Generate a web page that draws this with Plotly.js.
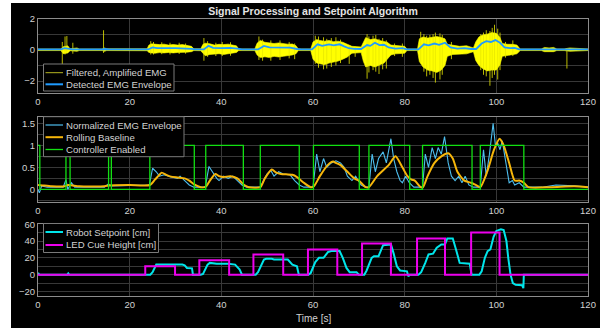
<!DOCTYPE html>
<html><head><meta charset="utf-8">
<script src="https://cdn.plot.ly/plotly-3.0.1.min.js"></script>
<style>
html,body{margin:0;padding:0;background:#fff;width:605px;height:328px;overflow:hidden}
#chart{position:absolute;left:11px;top:3px;width:589px;height:325px}
</style>
</head><body><div id="chart"></div>
<script>
// ---------- Panel 1: filtered EMG (band read as upper/lower extent) ----------
const emgT  = [0,5,5.5,6.5,7,8.5,9,14,14.5,15,23.8,
  24.2,24.8,25.5,26.5,27.5,28.5,29.5,30.5,31.5,32.5,33.5,34,
  35.5,36,36.5,37.5,38.5,39.5,40.5,41.5,42.5,43.3,43.8,
  47.3,47.8,48.5,49.5,50.5,51.5,52.5,53.5,54.5,55.5,56.3,56.8,
  59.5,60,60.8,61.5,62.5,63.5,64.5,65.5,66.5,67.5,68,68.5,70.5,
  71,71.5,72.5,73.5,74.5,75.5,76.2,77,78,79,80,80.5,
  82.8,83.2,84,85,86,87,88,88.8,89.3,90.5,92,93.5,95,
  95.5,96.2,97,98,99,100,100.8,101.3,102.5,103.5,104.5,105.2,
  109.8,110.5,111.5,112.5,113.2,114.8,116,117.5,119,120];
const emgHi = [0.05,0.05,0.2,0.25,0.06,0.12,0.05,0.05,0.12,0.06,0.06,
  0.3,0.38,0.35,0.33,0.36,0.3,0.34,0.3,0.33,0.27,0.22,0.06,
  0.06,0.35,0.42,0.38,0.3,0.35,0.33,0.36,0.3,0.25,0.05,
  0.05,0.42,0.6,0.48,0.45,0.4,0.44,0.4,0.36,0.37,0.26,0.05,
  0.05,0.5,0.65,0.6,0.55,0.6,0.52,0.55,0.48,0.35,0.26,0.22,0.18,
  0.5,0.78,0.65,0.7,0.6,0.52,0.48,0.3,0.26,0.26,0.22,0.05,
  0.05,0.7,0.82,0.75,0.78,0.85,0.78,0.7,0.35,0.3,0.22,0.26,0.12,
  0.5,0.82,0.95,1.0,1.1,1.05,0.78,0.4,0.35,0.35,0.3,0.05,
  0.05,0.15,0.12,0.15,0.05,0.05,0.12,0.1,0.1,0.05];
const emgLo = [-0.05,-0.05,-0.25,-0.2,-0.06,-0.1,-0.05,-0.05,-0.1,-0.05,-0.06,
  -0.17,-0.2,-0.22,-0.18,-0.2,-0.17,-0.2,-0.17,-0.18,-0.15,-0.12,-0.05,
  -0.06,-0.25,-0.38,-0.3,-0.27,-0.25,-0.3,-0.25,-0.23,-0.17,-0.05,
  -0.05,-0.33,-0.5,-0.45,-0.5,-0.42,-0.46,-0.42,-0.38,-0.33,-0.25,-0.05,
  -0.05,-0.6,-0.85,-0.9,-0.95,-0.85,-0.78,-0.72,-0.6,-0.46,-0.33,-0.22,-0.18,
  -0.75,-1.1,-1.0,-1.1,-1.0,-0.85,-0.6,-0.33,-0.26,-0.26,-0.22,-0.05,
  -0.05,-0.75,-1.1,-1.3,-1.35,-1.45,-1.3,-1.0,-0.42,-0.3,-0.26,-0.26,-0.12,
  -0.68,-1.0,-1.2,-1.35,-1.3,-1.3,-0.95,-0.42,-0.35,-0.3,-0.26,-0.05,
  -0.05,-0.12,-0.1,-0.12,-0.05,-0.05,-0.1,-0.08,-0.08,-0.05];
// individual spikes of the EMG trace
const spikeT  = [5.3,5.9,6.3,7.6,14.3,24.6,25.2,27,28.8,30.8,32.2,36.2,37,38.8,40.2,42,48.2,49,50.8,52.8,54.8,56,
  60.5,61.2,62.3,63,64,65,66,67.9,69.2,71.8,72.2,73.1,73.7,74.4,75.2,76,77.8,79.5,
  83.5,84.2,84.8,85.5,86.2,86.7,87.7,88.2,90.2,96.6,97.2,97.8,98.6,99.1,99.6,100.3,100.8,102,103.6,115.4];
const spikeHi = [0.5,0.85,0.88,0.45,1.25,0.55,0.5,0.48,0.45,0.45,0.4,0.75,0.55,0.45,0.5,0.48,0.85,0.65,0.6,0.6,0.5,0.4,
  0.9,0.85,0.8,0.7,0.75,0.8,0.65,0.3,0.2,1.0,0.85,0.9,0.95,0.7,0.75,0.6,0.4,0.4,
  1.15,1.0,0.9,0.95,1.0,1.1,1.05,0.95,0.5,1.0,1.1,1.25,1.2,1.4,1.6,1.35,1.1,0.5,0.6,0.1];
const spikeLo = [-0.95,-0.3,-0.2,-0.25,-0.2,-0.3,-0.3,-0.28,-0.3,-0.27,-0.25,-0.7,-0.45,-0.4,-0.4,-0.38,-0.65,-0.7,-0.7,-0.65,-0.55,-0.6,
  -0.9,-1.15,-1.25,-1.2,-1.1,-1.0,-0.85,-0.9,-0.45,-1.85,-1.45,-1.3,-1.4,-1.55,-1.25,-1.2,-0.4,-0.45,
  -0.8,-1.4,-1.7,-1.6,-1.8,-2.1,-1.9,-1.6,-0.6,-1.3,-1.6,-1.7,-2.3,-1.8,-1.6,-1.9,-1.3,-0.5,-0.4,-1.2];
// detected EMG envelope
const envT = [0,5,5.8,6.6,7.5,14,14.6,15.5,24,25,26,30,32,33.5,34.2,36.2,37.2,38.2,40,42,43.5,44.5,48,49.3,50.5,53,55,56.5,57.5,59.8,61,62,63.5,64.5,65.8,66.8,67.8,69,70.5,71.8,72.5,73.5,74.5,75.5,76.5,78,79.5,80.5,83,84.2,85.2,86.5,87.5,88.8,90,91.5,93,94.5,95.6,96.8,97.8,98.8,99.8,100.8,101.8,103,104,105,120];
const envV = [0.02,0.02,0.1,0.08,0.03,0.02,0.05,0.02,0.02,0.15,0.1,0.1,0.09,0.06,0.02,0.02,0.25,0.12,0.1,0.12,0.08,0.02,0.02,0.25,0.15,0.16,0.14,0.05,0.02,0.02,0.35,0.25,0.35,0.28,0.35,0.22,0.1,0.06,0.05,0.3,0.25,0.45,0.3,0.32,0.15,0.08,0.1,0.03,0.03,0.35,0.28,0.4,0.32,0.45,0.15,0.08,0.1,0.05,0.05,0.4,0.55,0.5,0.62,0.45,0.15,0.1,0.12,0.03,0.02];

// ---------- Panel 2 ----------
const normT = [0,0.3,0.8,2,5.5,6.1,6.5,7.3,8,14.5,15.3,16,24.3,25,25.8,26.5,27.5,29,30.5,31,32,32.5,33,34,36.5,37.3,38,39,39.5,40.5,41.5,42.5,43.5,44.5,45.5,48.5,49.2,50,50.8,51.5,52.5,53.5,55,56,57,58,60,60.8,61.5,62.3,63,64,65,66,66.8,67.5,68.5,69.3,70.5,71.5,72.2,72.9,73.6,74.3,75.3,76,77,77.6,78.3,79,79.5,80.2,81,82,83.9,84.5,85.2,86,86.7,87.3,88,88.7,89.5,90.2,91,91.8,92.5,93.2,94,95,96.5,97.2,97.8,98.5,99.3,99.8,100.3,100.8,101.3,102,102.8,103.5,104,105,106,110,113,117,120];
const normV = [0,-0.08,0.08,0.05,0.05,0.22,0,0.15,0.05,0.05,0.12,0.08,0.1,0.48,0.4,0.3,0.33,0.28,0.25,0.3,0.2,0.15,0.1,0.05,0.05,0.52,0.4,0.25,0.2,0.3,0.25,0.3,0.2,0.1,0.05,0.05,0.2,0.35,0.43,0.3,0.4,0.35,0.33,0.2,0.1,0.05,0.05,0.8,0.4,0.7,0.5,0.6,0.65,0.6,0.5,0.3,0.2,0.3,0.1,0.05,0.05,0.8,0.4,0.7,0.85,0.6,1.15,0.7,0.4,0.2,0.15,0.3,0.15,0.05,0.05,0.8,0.5,0.95,0.7,0.95,0.8,1.2,0.6,0.3,0.2,0.3,0.15,0.3,0.1,0.05,0.05,0.9,0.3,0.8,1.5,1.0,1.05,0.9,1.1,0.7,0.15,0.2,0.1,0.15,0.05,0.05,0.1,0.08,0.05];
const baseT = [0,1,3,5.8,6.5,7.5,9,14.5,15.5,20,24.4,25.5,26.5,27,28,29,30.5,32,33,34,35.5,36.6,37.5,38.7,39.5,40.5,42,43.5,45,46,48.5,49.5,51,52,53,55.5,56.5,58,59.5,60.2,61.5,63.2,64.4,65,66,67.5,69,70,71.5,72.2,74,76.5,78,79.5,80.6,81.5,82.2,83.5,84,85,86.5,88,89.5,90.5,91.5,93,94.5,95.5,96.5,98,99.5,100.7,101.6,102.8,104,105,106,107,112,117,120];
const baseV = [0.1,0.09,0.07,0.07,0.1,0.09,0.07,0.07,0.09,0.1,0.1,0.22,0.33,0.38,0.33,0.29,0.27,0.25,0.2,0.12,0.05,0.06,0.2,0.35,0.3,0.28,0.3,0.25,0.1,0.05,0.05,0.25,0.45,0.38,0.35,0.33,0.28,0.15,0.05,0.07,0.3,0.55,0.63,0.6,0.55,0.4,0.25,0.2,0.05,0.05,0.3,0.55,0.75,0.5,0.3,0.22,0.2,0.05,0.05,0.3,0.6,0.75,0.82,0.7,0.4,0.2,0.15,0.1,0.05,0.4,0.9,1.15,1.0,0.6,0.2,0.2,0.15,0.05,0.05,0.07,0.05];
const ctrlT = [0,0.4,6.1,7.0,15.4,16.0,24.4,34.1,36.6,44.8,48.5,57.0,60.1,70.1,72.2,81.1,83.9,94.7,96.5,106.0,120];
const ctrlV = [1,0,1,0,1,0,1,0,1,0,1,0,1,0,1,0,1,0,1,0,0];

// ---------- Panel 3 ----------
const setT = [0,0.3,6.4,6.6,6.8,24.5,25,25.8,31.5,32,32.5,33.6,33.8,35.5,36,37,37.5,39,41.5,43,44,44.5,47.5,48,49.3,49.8,51,51.5,54.5,55,55.5,56.5,56.9,59,59.5,60.5,61.3,62.3,63.3,64,65.8,66.5,67.3,68,69.5,70,71.2,71.7,72.8,73.3,74.3,75.3,77,77.6,78.3,79,80.5,80.8,81.1,83,83.6,84.5,85.2,86.2,87,88,88.8,89.3,90.5,91.2,92,94.2,94.6,96.3,96.8,97.5,98.1,98.7,99.4,100,101,101.6,102.2,102.6,103.1,103.6,104.2,105.6,105.9,106,120];
const setV = [2,0,0,1.5,0,0,3,12,12,11,8,7.5,0,0,1,12,14,13,13,12,6,0,0,3,18,19,19,18,18,15,12,10,0,0,2,15,20,20,27,28,28,20,8,3,3,0,0,5,20,22,22,35,36,25,10,5,4,-2,0,0,3,14,24,25,32,36,36,43,43,30,14,13,0,0,4,20,28,30,45,52,54,53,40,20,0,-10,-12,-12.5,-16,0,0];
const ledT = [0,23.4,29.9,35.2,41.7,47.0,53.5,58.9,65.3,70.7,77.0,82.7,88.8,94.5,100.7,120];
const ledV = [0,10,0,17,0,24,0,30,0,37,0,43,0,50,0,0];

const names1 = ['Filtered, Amplified EMG','Detected EMG Envelope'];
const names2 = ['Normalized EMG Envelope','Rolling Baseline','Controller Enabled'];
const names3 = ['Robot Setpoint [cm]','LED Cue Height [cm]'];
const xTicks = [0,20,40,60,80,100,120];

// ---------- styling ----------
const FONT = 'Liberation Sans, Arial, sans-serif';
const TXT = '#d2d2d2', GRID = '#383838', BOX = '#8c8c8c';
const C_YEL = '#ffff00', C_ENV = '#1f9bff', C_NORM = '#4dbeee', C_BASE = '#f6b60a',
      C_CTRL = '#12e012', C_SET = '#00e5ea', C_LED = '#ee00ee';

const spX = [], spY = [];
spikeT.forEach((t,i)=>{ spX.push(t,t,null); spY.push(spikeLo[i],spikeHi[i],null); });

const common = {mode:'lines', hoverinfo:'skip', showlegend:false};
const traces = [
  Object.assign({x:emgT, y:emgLo, xaxis:'x', yaxis:'y', line:{color:C_YEL, width:0.6}}, common),
  Object.assign({x:emgT, y:emgHi, xaxis:'x', yaxis:'y', fill:'tonexty', fillcolor:C_YEL, line:{color:C_YEL, width:0.6}}, common),
  Object.assign({x:spX, y:spY, xaxis:'x', yaxis:'y', line:{color:'#e8e800', width:0.8}}, common),
  Object.assign({x:envT, y:envV, xaxis:'x', yaxis:'y', line:{color:C_ENV, width:1.8}}, common),
  Object.assign({x:normT, y:normV, xaxis:'x2', yaxis:'y2', line:{color:C_NORM, width:1.1}}, common),
  Object.assign({x:baseT, y:baseV, xaxis:'x2', yaxis:'y2', line:{color:C_BASE, width:2, shape:'spline', smoothing:0.6}}, common),
  Object.assign({x:ctrlT, y:ctrlV, xaxis:'x2', yaxis:'y2', line:{color:C_CTRL, width:1.3, shape:'hv'}}, common),
  Object.assign({x:setT, y:setV, xaxis:'x3', yaxis:'y3', line:{color:C_SET, width:2}}, common),
  Object.assign({x:ledT, y:ledV, xaxis:'x3', yaxis:'y3', line:{color:C_LED, width:2, shape:'hv'}}, common)
];

function xax(anchor){
  return {range:[0,120], tickvals:xTicks, showgrid:true, gridcolor:GRID, gridwidth:1, zeroline:false,
    showline:true, mirror:true, linecolor:BOX, linewidth:1, ticks:'', anchor:anchor,
    tickfont:{family:FONT, size:9.5, color:TXT}};
}
function yax(range, dtick, minor, dom, anchor){
  return {range:range, domain:dom, dtick:dtick, tick0:0, showgrid:true, gridcolor:GRID, gridwidth:1,
    zeroline:false, showline:true, mirror:true, linecolor:BOX, linewidth:1, ticks:'', anchor:anchor,
    minor:{dtick:minor, tick0:0, showgrid:true, gridcolor:GRID, gridwidth:1},
    tickfont:{family:FONT, size:9.5, color:TXT}};
}

// page pixel -> paper helpers for the legend boxes
const W = 550, H = 325, L = 27, OX = 11, OY = 3;
const px = X => (X - OX - L) / W;
const py = Y => 1 - (Y - OY) / H;

const shapes = [], annotations = [];
function legend(box, rows){
  shapes.push({type:'rect', xref:'paper', yref:'paper', x0:px(box[0]), x1:px(box[2]), y0:py(box[1]), y1:py(box[3]),
    fillcolor:'#000', line:{color:'#7a7a7a', width:1}, layer:'above'});
  rows.forEach(r=>{
    shapes.push({type:'line', xref:'paper', yref:'paper', x0:px(45.5), x1:px(63), y0:py(r.y), y1:py(r.y),
      line:{color:r.color, width:r.w}, layer:'above'});
    annotations.push({text:r.name, xref:'paper', yref:'paper', x:px(63.5), y:py(r.y), xanchor:'left', yanchor:'middle',
      showarrow:false, font:{family:FONT, size:9.6, color:TXT}});
  });
}
legend([43.5,64,174,91], [
  {name:names1[0], color:'#b5b520', w:1, y:72.7},
  {name:names1[1], color:C_ENV, w:2, y:84.3}]);
legend([43.5,116.7,184,156.7], [
  {name:names2[0], color:C_NORM, w:1.2, y:125},
  {name:names2[1], color:C_BASE, w:2, y:137.2},
  {name:names2[2], color:C_CTRL, w:1.3, y:149.5}]);
legend([43.5,223.5,158.5,252.5], [
  {name:names3[0], color:C_SET, w:2, y:232},
  {name:names3[1], color:C_LED, w:2, y:245}]);

annotations.push({text:'Time [s]', xref:'paper', yref:'paper', x:0.5, y:py(318), xanchor:'center', yanchor:'middle',
  showarrow:false, font:{family:FONT, size:10, color:TXT}});

const layout = {
  width:589, height:325, paper_bgcolor:'#000', plot_bgcolor:'#000',
  margin:{l:L, r:12, t:0, b:0, pad:0}, showlegend:false,
  title:{text:'<b>Signal Processing and Setpoint Algorithm</b>', font:{family:FONT, size:10.5, color:'#e4e4e4'},
    x:0.5, xref:'paper', xanchor:'center', y:py(11), yref:'container', yanchor:'middle'},
  xaxis: xax('y'), xaxis2: xax('y2'), xaxis3: xax('y3'),
  yaxis: yax([-2.75,2], 2, 1, [py(92.8), py(18.5)], 'x'),
  yaxis2: yax([-0.28,1.65], 0.5, 0.25, [py(201.7), py(116.7)], 'x2'),
  yaxis3: yax([-25,60], 20, 10, [py(295.7), py(224.2)], 'x3'),
  shapes:shapes, annotations:annotations
};
Plotly.newPlot('chart', traces, layout, {staticPlot:true, displayModeBar:false});
</script></body></html>
